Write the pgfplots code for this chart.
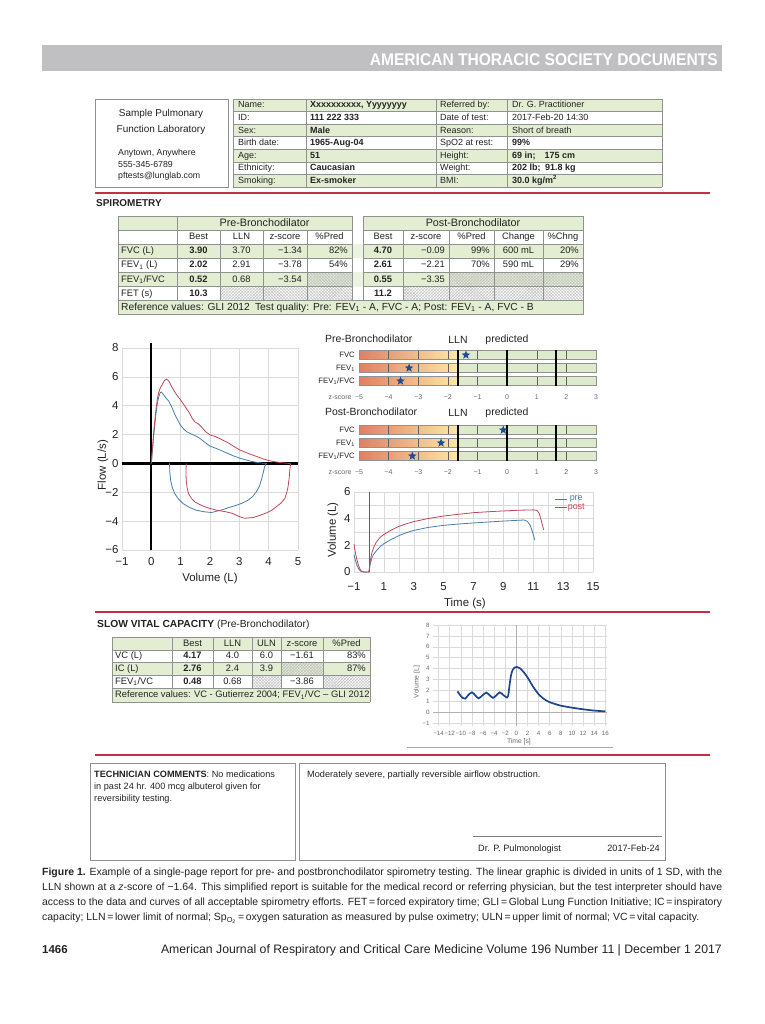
\documentclass[border=0pt]{standalone}
\usepackage{pgfplots}
\pgfplotsset{compat=1.18}
\usepackage{fontspec}
\setmainfont{Liberation Sans}
\usepackage{graphicx}
\usetikzlibrary{patterns}

\definecolor{txt}{RGB}{35,35,35}
\definecolor{rowgreen}{RGB}{226,237,210}
\definecolor{gapgreen}{RGB}{236,243,226}
\definecolor{tgray}{RGB}{145,145,145}
\definecolor{hdrgray}{RGB}{192,192,194}
\definecolor{atsred}{RGB}{192,48,72}
\definecolor{preblue}{RGB}{72,125,168}
\definecolor{postred}{RGB}{188,72,88}
\definecolor{starblue}{RGB}{28,78,150}
\definecolor{zred}{RGB}{224,128,100}
\definecolor{zyel}{RGB}{253,232,168}
\definecolor{zgreen}{RGB}{222,234,204}
\definecolor{zline}{RGB}{95,95,95}
\definecolor{zlab}{RGB}{105,105,105}
\definecolor{gridgray}{RGB}{218,218,218}
\definecolor{svcblue}{RGB}{30,70,140}

\newcommand\fs[1]{\fontsize{#1}{#1}\selectfont}
\newcommand\tabfont{\fs{9.4}}
\newcommand\tcen[3]{\node[anchor=mid] at (#1,{#2}) {\tabfont #3};}
\newcommand\trr[3]{\node[anchor=mid east] at (#1,{#2}) {\tabfont #3};}
\newcommand\tlft[3]{\node[anchor=mid west] at (#1,{#2}) {\tabfont #3};}
\newcommand\hatch[4]{%
  \fill[pattern=north east lines, pattern color=gray!50] (#1,#2) rectangle (#3,#4);
  \fill[pattern=north west lines, pattern color=gray!50] (#1,#2) rectangle (#3,#4);}
\newcommand\prow[5]{%
  \tlft{238}{99+(#1+0.5)*12.57}{#2}
  \tlft{310}{99+(#1+0.5)*12.57}{\bfseries #3}
  \tlft{440}{99+(#1+0.5)*12.57}{#4}
  \tlft{512}{99+(#1+0.5)*12.57}{#5}}
% one caption line, justified to the full width (squeezed if too long)
\newcommand\capline[1]{\sbox0{#1}\ifdim\wd0>680bp\resizebox{680bp}{\height}{\usebox0}\else\makebox[680bp][s]{#1}\fi}

% z-score bar (decoration inside the axis)
\newcommand\zrow[2]{%
  \fill[left color=zred, right color=zyel] (axis cs:-5,#1) rectangle (axis cs:-1.645,#2);
  \fill[zgreen] (axis cs:-1.645,#1) rectangle (axis cs:3,#2);
  \draw[zline, line width=0.4bp] (axis cs:-4,#1) -- (axis cs:-4,#2);
  \draw[zline, line width=0.4bp] (axis cs:-3,#1) -- (axis cs:-3,#2);
  \draw[zline, line width=0.4bp] (axis cs:-2,#1) -- (axis cs:-2,#2);
  \draw[zline, line width=0.4bp] (axis cs:-1,#1) -- (axis cs:-1,#2);
  \draw[zline, line width=0.4bp] (axis cs:1,#1) -- (axis cs:1,#2);
  \draw[zline, line width=0.4bp] (axis cs:2,#1) -- (axis cs:2,#2);
  \draw[tgray, line width=0.5bp] (axis cs:-5,#1) rectangle (axis cs:3,#2);}

\pgfdeclareplotmark{fivestar}{%
  \pgfpathmoveto{\pgfpointpolar{90}{\pgfplotmarksize}}%
  \pgfpathlineto{\pgfpointpolar{126}{0.42\pgfplotmarksize}}%
  \pgfpathlineto{\pgfpointpolar{162}{\pgfplotmarksize}}%
  \pgfpathlineto{\pgfpointpolar{198}{0.42\pgfplotmarksize}}%
  \pgfpathlineto{\pgfpointpolar{234}{\pgfplotmarksize}}%
  \pgfpathlineto{\pgfpointpolar{270}{0.42\pgfplotmarksize}}%
  \pgfpathlineto{\pgfpointpolar{306}{\pgfplotmarksize}}%
  \pgfpathlineto{\pgfpointpolar{342}{0.42\pgfplotmarksize}}%
  \pgfpathlineto{\pgfpointpolar{18}{\pgfplotmarksize}}%
  \pgfpathlineto{\pgfpointpolar{54}{0.42\pgfplotmarksize}}%
  \pgfpathclose\pgfusepathqfill}

\pgfplotsset{
  zaxis/.style={anchor=south west, scale only axis, width=237bp, height=36.4bp,
    xmin=-5, xmax=3, ymin=0.6, ymax=3.4, clip=false,
    axis line style={draw=none}, tick style={draw=none}, ytick=\empty,
    xtick={-5,...,3},
    xticklabels={\llap{z-score\enspace}−5,−4,−3,−2,−1,0,1,2,3},
    xticklabel style={font=\fs{7}, text=zlab, yshift=-4.5bp}},
}

\begin{document}
\begin{tikzpicture}
\useasboundingbox (0,0) rectangle (765bp,-1024bp);
\fill[white] (0,0) rectangle (765bp,-1024bp);
\begin{scope}[x=1bp, y=-1bp, every node/.append style={inner sep=0pt, text=txt}]

% journal header
\fill[hdrgray] (42,45) rectangle (722,71);
\node[anchor=base east, text=white] at (718,65) {\fs{17}\bfseries\scalebox{0.92}[1]{AMERICAN THORACIC SOCIETY DOCUMENTS}};

% laboratory box
\draw[tgray, line width=0.8bp] (95,99) rectangle (228,187);
\node at (161,114) {\fs{10}Sample Pulmonary};
\node at (161,130) {\fs{10}Function Laboratory};
\node[anchor=mid west] at (118,153) {\fs{8.8}Anytown, Anywhere};
\node[anchor=mid west] at (118,165) {\fs{8.8}555-345-6789};
\node[anchor=mid west] at (118,176) {\fs{8.8}pftests@lunglab.com};

% patient table
\renewcommand\tabfont{\fs{9}}
\foreach \r in {0,2,4,6} {\fill[rowgreen] (233,{99+\r*12.57}) rectangle (662,{99+(\r+1)*12.57});}
\foreach \r in {0,...,7} {\draw[tgray, line width=0.6bp] (233,{99+\r*12.57}) -- (662,{99+\r*12.57});}
\foreach \xx in {233,306,436,507,662} {\draw[tgray, line width=0.6bp] (\xx,99) -- (\xx,187);}
\prow{0}{Name:}{Xxxxxxxxxx, Yyyyyyyy}{Referred by:}{Dr. G. Practitioner}
\prow{1}{ID:}{111 222 333}{Date of test:}{2017-Feb-20 14:30}
\prow{2}{Sex:}{Male}{Reason:}{Short of breath}
\prow{3}{Birth date:}{1965-Aug-04}{SpO2 at rest:}{\textbf{99\%}}
\prow{4}{Age:}{51}{Height:}{\textbf{69 in;\quad 175 cm}}
\prow{5}{Ethnicity:}{Caucasian}{Weight:}{\textbf{202 lb;\enspace 91.8 kg}}
\prow{6}{Smoking:}{Ex-smoker}{BMI:}{\textbf{30.0 kg/m\textsuperscript{2}}}

\draw[atsred, line width=1.8bp] (95,193) -- (710,193);

% spirometry table
\renewcommand\tabfont{\fs{9.4}}
\node[anchor=mid west] at (96,204) {\fs{10}\bfseries SPIROMETRY};
\fill[rowgreen] (118,216) rectangle (352,230.1);
\fill[rowgreen] (363,216) rectangle (583,230.1);
\fill[rowgreen] (118,244.2) rectangle (583,258.3);
\fill[rowgreen] (118,272.4) rectangle (583,286.5);
\fill[gapgreen] (352,244.2) rectangle (363,258.3);
\fill[gapgreen] (352,272.4) rectangle (363,286.5);
\fill[rowgreen] (118,300.6) rectangle (583,314.7);
\hatch{307}{272.4}{352}{286.5}
\hatch{449}{272.4}{583}{286.5}
\hatch{220}{286.5}{352}{300.6}
\hatch{403}{286.5}{583}{300.6}
\foreach \yy in {216,230.1,244.2,258.3,272.4,286.5} {
  \draw[tgray, line width=0.6bp] (118,\yy) -- (352,\yy);
  \draw[tgray, line width=0.6bp] (363,\yy) -- (583,\yy);}
\draw[tgray, line width=0.6bp] (118,300.6) -- (583,300.6);
\draw[tgray, line width=0.6bp] (118,314.7) -- (583,314.7);
\draw[tgray, line width=0.6bp] (118,216) -- (118,314.7);
\draw[tgray, line width=0.6bp] (583,216) -- (583,314.7);
\foreach \xx in {177,352,363} {\draw[tgray, line width=0.6bp] (\xx,216) -- (\xx,300.6);}
\foreach \xx in {220,263,307,403,449,494,543} {\draw[tgray, line width=0.6bp] (\xx,230.1) -- (\xx,300.6);}
\node at (264.5,223.05) {\fs{10.8}Pre-Bronchodilator};
\node at (473,223.05) {\fs{10.8}Post-Bronchodilator};
\tcen{198.5}{237.15}{Best}\tcen{241.5}{237.15}{LLN}\tcen{285}{237.15}{z-score}\tcen{329.5}{237.15}{\%Pred}
\tcen{383}{237.15}{Best}\tcen{426}{237.15}{z-score}\tcen{471.5}{237.15}{\%Pred}\tcen{518.5}{237.15}{Change}\tcen{563}{237.15}{\%Chng}
\tlft{121}{251.25}{FVC (L)}
\tcen{198.5}{251.25}{\bfseries 3.90}\tcen{241.5}{251.25}{3.70}\trr{302}{251.25}{−1.34}\trr{348}{251.25}{82\%}
\tcen{383}{251.25}{\bfseries 4.70}\trr{445}{251.25}{−0.09}\trr{490}{251.25}{99\%}\tcen{518.5}{251.25}{600 mL}\trr{579}{251.25}{20\%}
\tlft{121}{265.35}{FEV\textsubscript{1} (L)}
\tcen{198.5}{265.35}{\bfseries 2.02}\tcen{241.5}{265.35}{2.91}\trr{302}{265.35}{−3.78}\trr{348}{265.35}{54\%}
\tcen{383}{265.35}{\bfseries 2.61}\trr{445}{265.35}{−2.21}\trr{490}{265.35}{70\%}\tcen{518.5}{265.35}{590 mL}\trr{579}{265.35}{29\%}
\tlft{121}{279.45}{FEV\textsubscript{1}/FVC}
\tcen{198.5}{279.45}{\bfseries 0.52}\tcen{241.5}{279.45}{0.68}\trr{302}{279.45}{−3.54}
\tcen{383}{279.45}{\bfseries 0.55}\trr{445}{279.45}{−3.35}
\tlft{121}{293.55}{FET (s)}
\tcen{198.5}{293.55}{\bfseries 10.3}\tcen{383}{293.55}{\bfseries 11.2}
\node[anchor=mid west] at (121,307.65) {\fs{10.3}Reference values: GLI 2012\enspace Test quality: Pre: FEV\textsubscript{1} - A, FVC - A; Post: FEV\textsubscript{1} - A, FVC - B};

% z-score chart titles and row labels
\node[anchor=mid west] at (325,340) {\fs{10.5}Pre-Bronchodilator};
\node at (458,340) {\fs{10.5}LLN};
\node at (507,340) {\fs{10.5}predicted};
\node[anchor=mid east] at (355,355) {\fs{7.8}FVC};
\node[anchor=mid east] at (355,368) {\fs{7.8}FEV\textsubscript{1}};
\node[anchor=mid east] at (355,381) {\fs{7.8}FEV\textsubscript{1}/FVC};
\node[anchor=mid west] at (325,413) {\fs{10.5}Post-Bronchodilator};
\node at (458,413) {\fs{10.5}LLN};
\node at (507,413) {\fs{10.5}predicted};
\node[anchor=mid east] at (355,430) {\fs{7.8}FVC};
\node[anchor=mid east] at (355,443) {\fs{7.8}FEV\textsubscript{1}};
\node[anchor=mid east] at (355,456) {\fs{7.8}FEV\textsubscript{1}/FVC};

% slow vital capacity
\draw[atsred, line width=1.8bp] (95,612) -- (710,612);
\node[anchor=mid west] at (97,625) {\fs{10.3}\textbf{SLOW VITAL CAPACITY} (Pre-Bronchodilator)};
\renewcommand\tabfont{\fs{9.4}}
\fill[rowgreen] (112,637) rectangle (370,649.8);
\fill[rowgreen] (112,662.6) rectangle (370,675.4);
\fill[rowgreen] (112,688.2) rectangle (370,702);
\hatch{281}{662.6}{323}{675.4}
\hatch{252}{675.4}{281}{688.2}
\hatch{323}{675.4}{370}{688.2}
\foreach \yy in {637,649.8,662.6,675.4,688.2,702} {\draw[tgray, line width=0.6bp] (112,\yy) -- (370,\yy);}
\draw[tgray, line width=0.6bp] (112,637) -- (112,702);
\draw[tgray, line width=0.6bp] (370,637) -- (370,702);
\foreach \xx in {172,213,252,281,323} {\draw[tgray, line width=0.6bp] (\xx,637) -- (\xx,688.2);}
\tcen{192.5}{643.4}{Best}\tcen{232.5}{643.4}{LLN}\tcen{266.5}{643.4}{ULN}\tcen{302}{643.4}{z-score}\tcen{346.5}{643.4}{\%Pred}
\tlft{115}{656.2}{VC (L)}\tcen{192.5}{656.2}{\bfseries 4.17}\tcen{232.5}{656.2}{4.0}\tcen{266.5}{656.2}{6.0}\tcen{302}{656.2}{−1.61}\trr{366}{656.2}{83\%}
\tlft{115}{669}{IC (L)}\tcen{192.5}{669}{\bfseries 2.76}\tcen{232.5}{669}{2.4}\tcen{266.5}{669}{3.9}\trr{366}{669}{87\%}
\tlft{115}{681.8}{FEV\textsubscript{1}/VC}\tcen{192.5}{681.8}{\bfseries 0.48}\tcen{232.5}{681.8}{0.68}\tcen{302}{681.8}{−3.86}
\tlft{115}{695.1}{Reference values: VC - Gutierrez 2004; FEV\textsubscript{1}/VC – GLI 2012}
\draw[gray!70, line width=0.8bp] (407,747) -- (613,747);
\draw[atsred, line width=1.8bp] (95,755) -- (710,755);

% comment boxes
\draw[tgray, line width=0.8bp] (90,763) rectangle (295,860);
\draw[tgray, line width=0.8bp] (299,763) rectangle (665,860);
\node[anchor=base west] at (94,777) {\fs{9.2}\textbf{TECHNICIAN COMMENTS}: No medications};
\node[anchor=base west] at (94,789) {\fs{9.2}in past 24 hr. 400 mcg albuterol given for};
\node[anchor=base west] at (94,801) {\fs{9.2}reversibility testing.};
\node[anchor=base west] at (307,777) {\fs{9.2}Moderately severe, partially reversible airflow obstruction.};
\draw[gray, line width=0.6bp] (473,836) -- (662,836);
\node[anchor=base west] at (478,851) {\fs{9.2}Dr. P. Pulmonologist};
\node[anchor=base east] at (660,851) {\fs{9.2}2017-Feb-24};

% caption
\node[anchor=base west] at (42,875.5) {\fs{10.5}\capline{\textbf{Figure 1.} Example of a single-page report for pre- and postbronchodilator spirometry testing. The linear graphic is divided in units of 1 SD, with the}};
\node[anchor=base west] at (42,890.5) {\fs{10.5}\capline{LLN shown at a \textit{z}-score of −1.64. This simplified report is suitable for the medical record or referring physician, but the test interpreter should have}};
\node[anchor=base west] at (42,905.5) {\fs{10.5}\capline{access to the data and curves of all acceptable spirometry efforts. FET\,=\,forced expiratory time; GLI\,=\,Global Lung Function Initiative; IC\,=\,inspiratory}};
\node[anchor=base west] at (42,920.5) {\fs{10.5}capacity; LLN\,=\,lower limit of normal; Sp\textsubscript{O\textsubscript{2}}\,=\,oxygen saturation as measured by pulse oximetry; ULN\,=\,upper limit of normal; VC\,=\,vital capacity.};

% footer
\node[anchor=base west] at (42,953) {\fs{11.5}\bfseries 1466};
\node[anchor=base east] at (722,953) {\fs{12.3}American Journal of Respiratory and Critical Care Medicine Volume 196 Number 11 \textbar\ December 1 2017};
\end{scope}

% flow-volume loop
\begin{axis}[at={(122bp,-550bp)}, anchor=south west, scale only axis,
  width=176bp, height=202bp, xmin=-1, xmax=5, ymin=-6, ymax=8,
  xtick={-1,...,5}, ytick={-6,-4,...,8},
  xticklabels={−1,0,1,2,3,4,5}, yticklabels={−6,−4,−2,0,2,4,6,8},
  grid=major, major grid style={draw=gridgray, line width=0.5bp},
  axis line style={draw=none}, tick style={draw=none}, clip=false,
  ticklabel style={font=\fs{11.5}, text=txt},
  xticklabel style={yshift=-4bp},
  xlabel={Volume (L)}, ylabel={Flow (L/s)}, label style={font=\fs{11.5}, text=txt},
  xlabel style={at={(axis description cs:0.5,-0.139)}, anchor=center},
  ylabel style={at={(axis description cs:-0.108,0.42)}, anchor=center}]
\draw[black, line width=2.2bp] (axis cs:0,-6) -- (axis cs:0,8.35);
\draw[black, line width=2.2bp] (axis cs:-1,0) -- (axis cs:5,0);
\addplot[preblue, line width=0.8bp] coordinates {(0,0) (0.05,1.2) (0.1,2.3) (0.15,3.3) (0.2,4.1) (0.25,4.6) (0.3,4.9) (0.35,4.95) (0.4,4.8) (0.5,4.55) (0.6,4.3) (0.7,3.9) (0.8,3.4) (0.9,3.0) (1.0,2.62) (1.1,2.4) (1.2,2.2) (1.35,2.05) (1.5,1.92) (1.65,1.75) (1.8,1.5) (2.0,1.2) (2.2,1.05) (2.4,0.88) (2.6,0.7) (2.8,0.52) (3.0,0.38) (3.2,0.26) (3.4,0.15) (3.6,0.07) (3.8,0.02) (3.95,0)};
\addplot[preblue, line width=0.8bp] coordinates {(0.62,0) (0.63,-0.6) (0.66,-1.2) (0.72,-1.7) (0.8,-2.1) (0.92,-2.45) (1.08,-2.78) (1.3,-3.05) (1.53,-3.24) (1.8,-3.35) (2.05,-3.4) (2.25,-3.3) (2.44,-3.2) (2.65,-3.05) (2.9,-2.9) (3.1,-2.75) (3.3,-2.55) (3.45,-2.3) (3.58,-1.97) (3.68,-1.6) (3.75,-1.16) (3.82,-0.6) (3.86,-0.23) (3.92,0)};
\addplot[postred, line width=0.8bp] coordinates {(0,0) (0.05,1.4) (0.1,2.6) (0.15,3.6) (0.2,4.4) (0.25,4.9) (0.3,5.2) (0.38,5.5) (0.45,5.75) (0.52,5.85) (0.6,5.7) (0.7,5.3) (0.8,4.95) (0.9,4.65) (1.0,4.4) (1.1,4.1) (1.2,3.8) (1.3,3.5) (1.4,3.1) (1.5,2.85) (1.6,2.75) (1.7,2.55) (1.85,2.2) (2.0,1.98) (2.2,1.85) (2.4,1.65) (2.6,1.45) (2.8,1.2) (3.0,0.95) (3.2,0.78) (3.4,0.62) (3.6,0.48) (3.8,0.32) (4.0,0.2) (4.2,0.12) (4.4,0.06) (4.6,0.02) (4.72,0)};
\addplot[postred, line width=0.8bp] coordinates {(1.19,0) (1.18,-0.6) (1.19,-1.2) (1.22,-1.7) (1.27,-2.1) (1.36,-2.4) (1.48,-2.66) (1.65,-2.85) (1.82,-3.0) (2.0,-3.12) (2.22,-3.24) (2.4,-3.3) (2.56,-3.36) (2.75,-3.45) (2.9,-3.59) (3.05,-3.72) (3.18,-3.8) (3.3,-3.78) (3.47,-3.75) (3.7,-3.6) (3.92,-3.43) (4.1,-3.25) (4.26,-3.0) (4.42,-2.75) (4.55,-2.43) (4.62,-2.0) (4.66,-1.62) (4.7,-1.0) (4.72,-0.46) (4.75,0)};
\end{axis}

% z-score charts
\begin{axis}[zaxis, at={(359bp,-386.2bp)}]
\zrow{2.67}{3.33}\zrow{1.67}{2.33}\zrow{0.67}{1.33}
\draw[black, line width=2.2bp] (axis cs:-1.645,0.62) -- (axis cs:-1.645,3.38);
\draw[black, line width=2.2bp] (axis cs:0,0.62) -- (axis cs:0,3.38);
\draw[black, line width=2.2bp] (axis cs:1.645,0.62) -- (axis cs:1.645,3.38);
\addplot[only marks, mark=fivestar, mark size=4.6bp, color=starblue] coordinates {(-1.39,3) (-3.31,2) (-3.6,1)};
\end{axis}
\begin{axis}[zaxis, at={(359bp,-461.2bp)}]
\zrow{2.67}{3.33}\zrow{1.67}{2.33}\zrow{0.67}{1.33}
\draw[black, line width=2.2bp] (axis cs:-1.645,0.62) -- (axis cs:-1.645,3.38);
\draw[black, line width=2.2bp] (axis cs:0,0.62) -- (axis cs:0,3.38);
\draw[black, line width=2.2bp] (axis cs:1.645,0.62) -- (axis cs:1.645,3.38);
\addplot[only marks, mark=fivestar, mark size=4.6bp, color=starblue] coordinates {(-0.13,3) (-2.23,2) (-3.2,1)};
\end{axis}

% volume-time
\begin{axis}[at={(354bp,-572bp)}, anchor=south west, scale only axis,
  width=239bp, height=80bp, xmin=-1, xmax=15, ymin=0, ymax=6,
  xtick={-1,1,...,15}, xticklabels={−1,1,3,5,7,9,11,13,15},
  ytick={0,2,4,6}, yticklabels={0,2,4,6},
  minor x tick num=1, minor y tick num=1, grid=both,
  major grid style={draw=gridgray, line width=0.5bp},
  minor grid style={draw=gridgray, line width=0.5bp},
  axis line style={draw=none}, tick style={draw=none}, clip=false,
  ticklabel style={font=\fs{11.5}, text=txt},
  xticklabel style={yshift=-7bp},
  xlabel={Time (s)}, ylabel={Volume (L)}, label style={font=\fs{11.5}, text=txt},
  xlabel style={at={(axis description cs:0.464,-0.39)}, anchor=center},
  ylabel style={at={(axis description cs:-0.088,0.525)}, anchor=center},
  legend style={at={(axis cs:12.4,5.75)}, anchor=north west, draw=none, fill=none,
    font=\fs{9}, inner sep=0pt, row sep=0pt, nodes={inner sep=0.6bp}},
  legend image code/.code={\draw[#1] (0bp,0bp) -- (12bp,0bp);}]
\draw[zline, line width=0.6bp] (axis cs:0,0) -- (axis cs:0,6);
\addplot[preblue, line width=0.8bp] coordinates {(-1,1.3) (-0.9,0.85) (-0.8,0.5) (-0.7,0.25) (-0.6,0.1) (-0.5,0.03) (-0.35,0) (-0.1,0) (0,0) (0.05,0.35) (0.1,0.65) (0.2,1.05) (0.3,1.3) (0.5,1.6) (0.75,1.9) (1,2.12) (1.5,2.45) (2,2.72) (2.5,2.95) (3,3.12) (4,3.35) (5,3.5) (6,3.6) (7,3.68) (8,3.75) (9,3.82) (10,3.88) (10.4,3.9) (10.6,3.8) (10.8,3.5) (10.95,3.0) (11.1,2.4)};
\addlegendentry{\textcolor{preblue}{pre}}
\addplot[postred, line width=0.8bp] coordinates {(-1,2.1) (-0.9,1.4) (-0.8,0.9) (-0.7,0.5) (-0.6,0.22) (-0.5,0.07) (-0.35,0) (-0.1,0) (0,0) (0.05,0.5) (0.1,0.9) (0.2,1.45) (0.3,1.8) (0.5,2.25) (0.75,2.6) (1,2.82) (1.5,3.15) (2,3.42) (2.5,3.62) (3,3.78) (4,4.02) (5,4.2) (6,4.33) (7,4.45) (8,4.52) (9,4.58) (10,4.63) (11,4.66) (11.25,4.62) (11.4,4.4) (11.55,3.8) (11.7,3.15)};
\addlegendentry{\textcolor{postred}{post}}
\end{axis}

% slow vital capacity volume-time
\begin{axis}[at={(433bp,-726.4bp)}, anchor=south west, scale only axis,
  width=174bp, height=101.4bp, xmin=-15, xmax=16.3, ymin=-1.3, ymax=8,
  xtick={-14,-12,...,16},
  xticklabels={−14,−12,−10,−8,−6,−4,−2,0,2,4,6,8,10,12,14,16},
  ytick={-1,...,8}, yticklabels={−1,0,1,2,3,4,5,6,7,8},
  grid=major, major grid style={draw=gridgray, line width=0.5bp},
  axis line style={draw=none}, tick style={draw=none}, clip=false,
  ticklabel style={font=\fs{6.2}, text=zlab},
  xticklabel style={yshift=-1bp},
  xlabel={Time [s]}, ylabel={Volume [L]}, label style={font=\fs{6.8}, text=zlab},
  xlabel style={at={(axis description cs:0.494,-0.154)}, anchor=center},
  ylabel style={at={(axis description cs:-0.092,0.438)}, anchor=center}]
\draw[gray!60, line width=1.3bp] (axis cs:0,-1.3) -- (axis cs:0,8);
\draw[gray!60, line width=1bp] (axis cs:-15,0) -- (axis cs:16.3,0);
\addplot[svcblue, line width=1.7bp, smooth] coordinates {(-10.6,1.92) (-10.2,1.62) (-9.7,1.32) (-9.2,1.25) (-8.7,1.55) (-8.0,1.83) (-7.4,1.55) (-6.8,1.27) (-6.1,1.55) (-5.4,1.8) (-4.8,1.55) (-4.2,1.32) (-3.6,1.55) (-3.0,1.82) (-2.4,1.6) (-1.7,1.35) (-1.45,1.6) (-1.25,2.4) (-1.0,3.3) (-0.7,3.85) (-0.35,4.1) (0.1,4.15) (0.6,4.05) (1.2,3.75) (2,3.2) (3,2.35) (4,1.65) (5,1.2) (6,0.92) (7,0.75) (8,0.6) (10,0.42) (12,0.27) (14,0.15) (16,0.08)};
\end{axis}
\end{tikzpicture}
\end{document}
